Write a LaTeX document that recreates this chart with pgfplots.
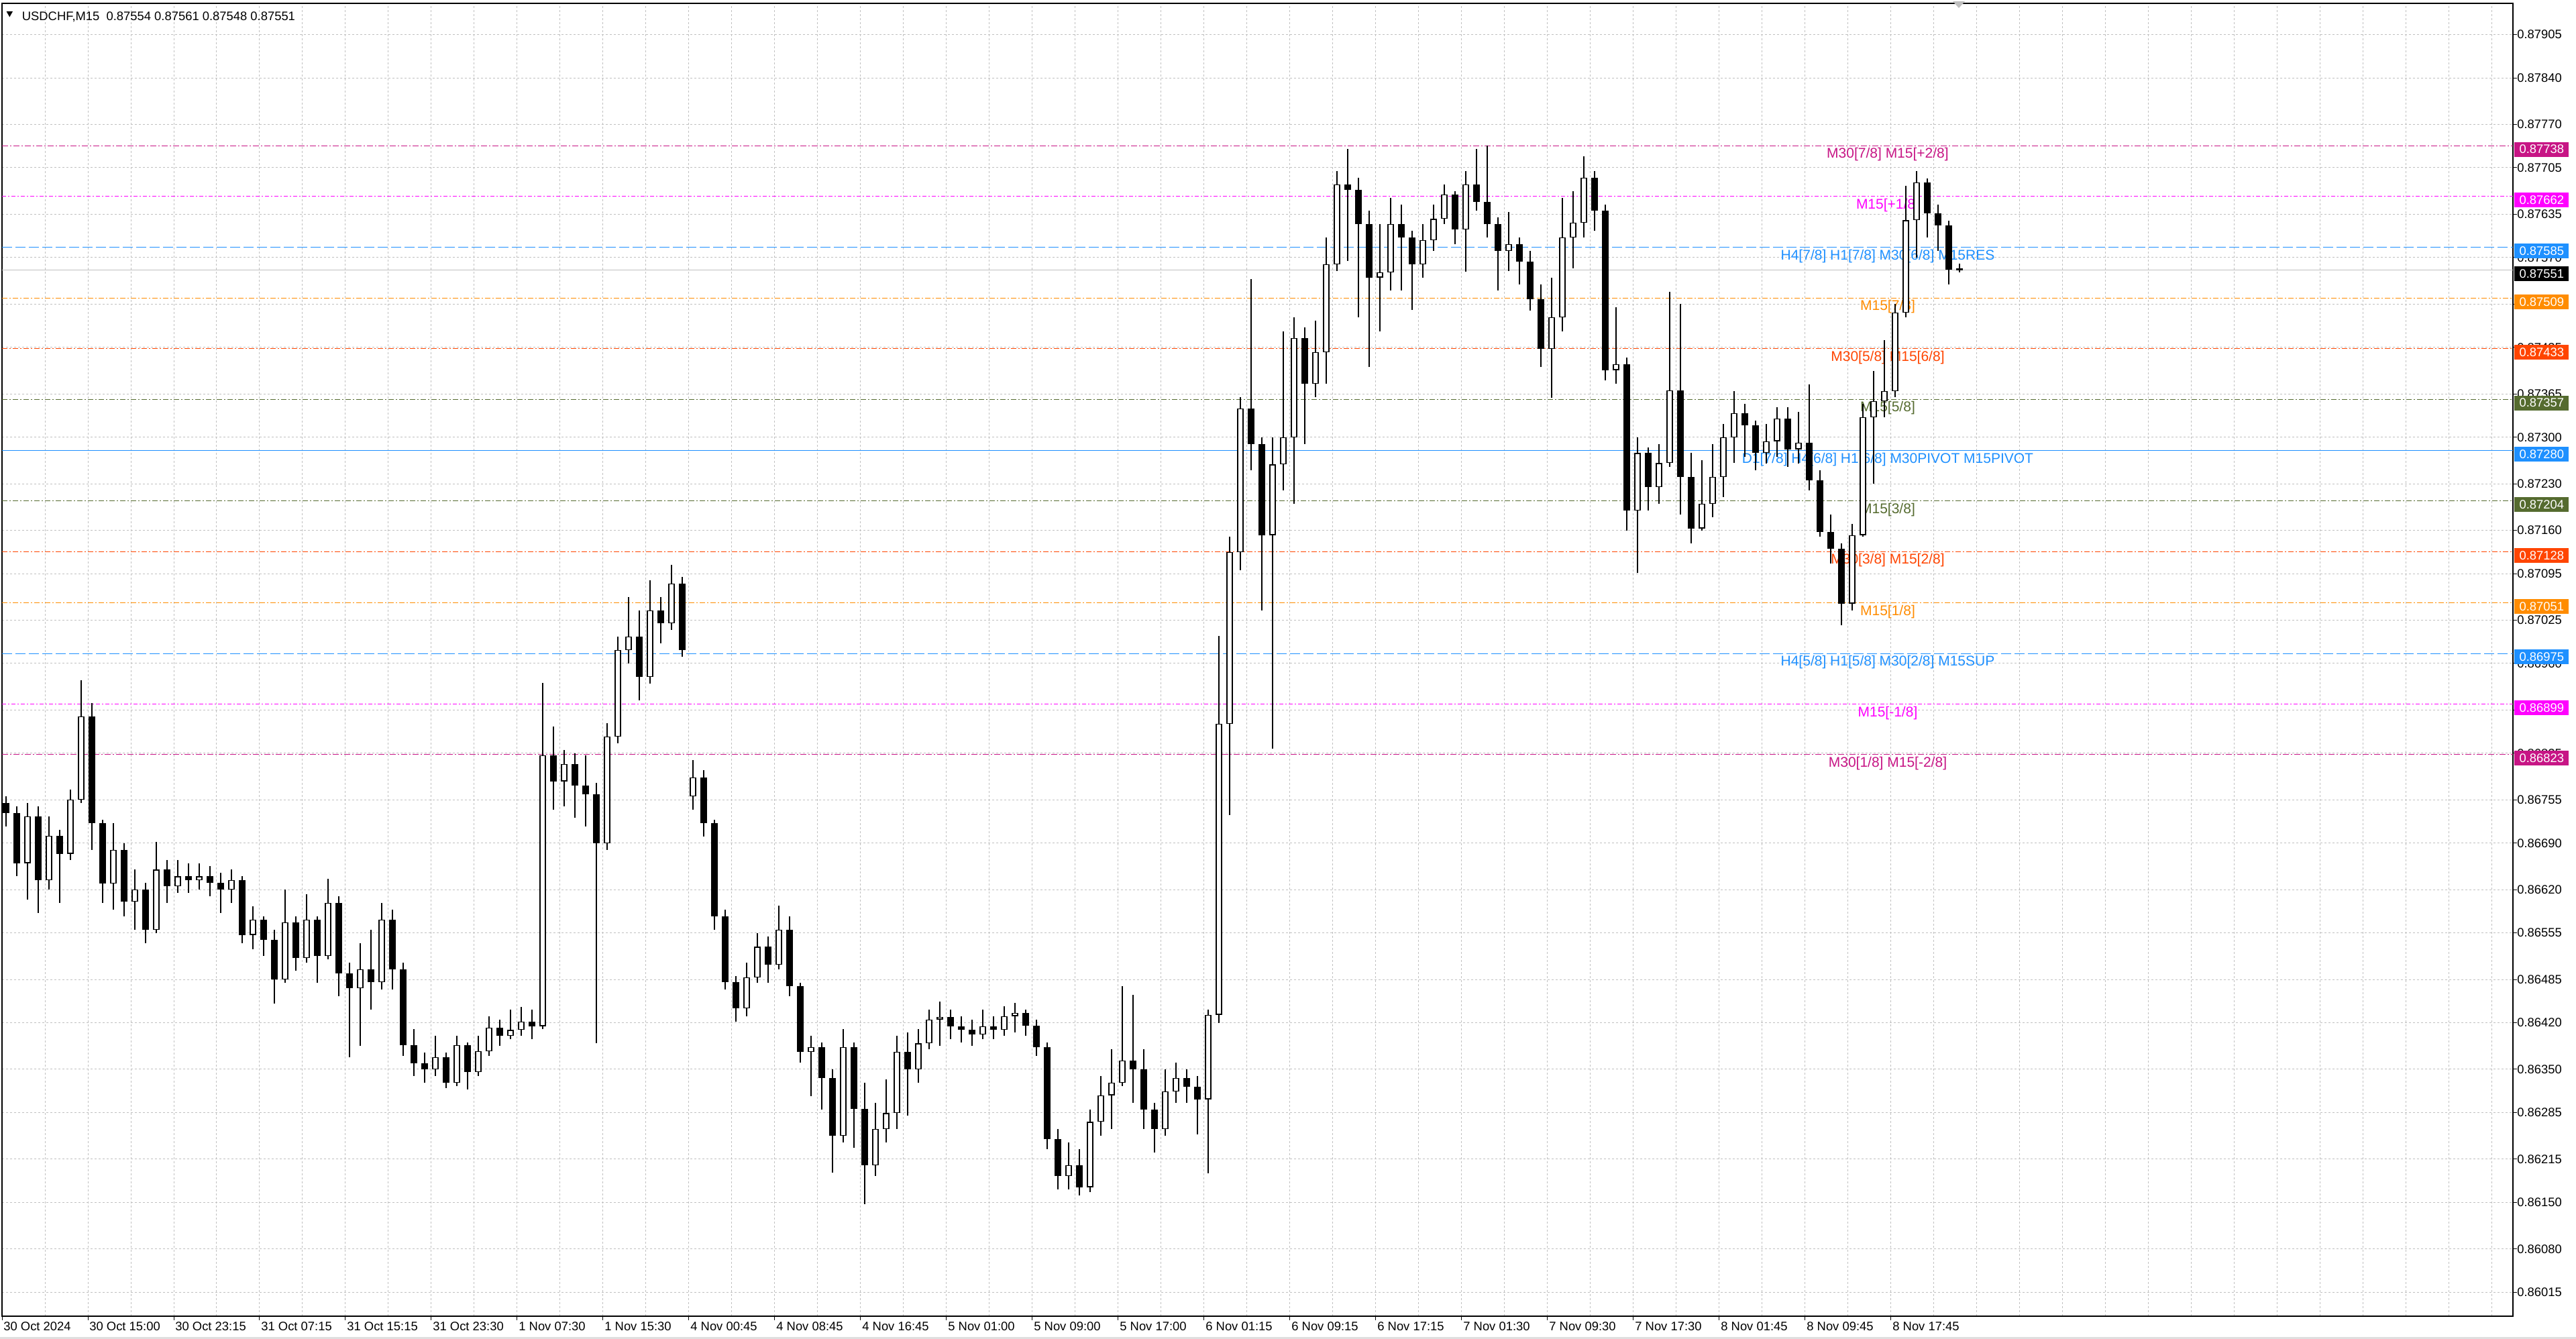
\documentclass[border=0pt]{standalone}
\usepackage{fontspec}
\setmainfont{Liberation Sans}
\usepackage{pgfplots}
\pgfplotsset{compat=1.18}
\usepackage{pgfplotstable}

\definecolor{mvr}{HTML}{C71585}
\definecolor{mag}{HTML}{FF00FF}
\definecolor{dblue}{HTML}{1E90FF}
\definecolor{dorange}{HTML}{FF8C00}
\definecolor{ored}{HTML}{FF4500}
\definecolor{olv}{HTML}{556B2F}
\definecolor{gridc}{HTML}{C0C0C0}

\newcommand\tickfont{\fontsize{9.2}{11}\selectfont}
\newcommand\lvlfont{\fontsize{10.5}{12}\selectfont}

\pgfplotstableread{
x o h l c
1.5 0.86750 0.86760 0.86715 0.86735
5.5 0.86735 0.86745 0.86640 0.86660
9.5 0.86660 0.86750 0.86605 0.86730
13.5 0.86730 0.86745 0.86585 0.86634
17.5 0.86634 0.86730 0.86620 0.86701
21.5 0.86701 0.86710 0.86600 0.86674
25.5 0.86674 0.86770 0.86665 0.86755
29.5 0.86755 0.86935 0.86750 0.86880
33.5 0.86880 0.86900 0.86680 0.86720
37.5 0.86720 0.86725 0.86600 0.86629
41.5 0.86629 0.86720 0.86590 0.86680
45.5 0.86680 0.86690 0.86580 0.86602
49.5 0.86602 0.86650 0.86560 0.86620
53.5 0.86620 0.86630 0.86540 0.86560
57.5 0.86560 0.86692 0.86555 0.86650
61.5 0.86650 0.86665 0.86600 0.86625
65.5 0.86625 0.86665 0.86615 0.86640
69.5 0.86640 0.86660 0.86615 0.86634
73.5 0.86634 0.86660 0.86620 0.86640
77.5 0.86640 0.86655 0.86610 0.86630
81.5 0.86630 0.86645 0.86585 0.86620
85.5 0.86620 0.86650 0.86600 0.86634
89.5 0.86634 0.86640 0.86540 0.86552
93.5 0.86552 0.86595 0.86530 0.86575
97.5 0.86575 0.86580 0.86520 0.86545
101.5 0.86545 0.86560 0.86449 0.86485
105.5 0.86485 0.86620 0.86480 0.86571
109.5 0.86571 0.86580 0.86498 0.86517
113.5 0.86517 0.86613 0.86510 0.86575
117.5 0.86575 0.86580 0.86480 0.86520
121.5 0.86520 0.86636 0.86515 0.86600
125.5 0.86600 0.86610 0.86460 0.86494
129.5 0.86494 0.86510 0.86368 0.86472
133.5 0.86472 0.86540 0.86385 0.86500
137.5 0.86500 0.86560 0.86440 0.86481
141.5 0.86481 0.86600 0.86470 0.86575
145.5 0.86575 0.86590 0.86470 0.86500
149.5 0.86500 0.86510 0.86370 0.86386
153.5 0.86386 0.86410 0.86340 0.86359
157.5 0.86359 0.86375 0.86330 0.86350
161.5 0.86350 0.86400 0.86340 0.86368
165.5 0.86368 0.86375 0.86322 0.86330
169.5 0.86330 0.86400 0.86325 0.86386
173.5 0.86386 0.86390 0.86320 0.86346
177.5 0.86346 0.86400 0.86340 0.86377
181.5 0.86377 0.86430 0.86370 0.86413
185.5 0.86413 0.86425 0.86385 0.86400
189.5 0.86400 0.86440 0.86395 0.86409
193.5 0.86409 0.86444 0.86400 0.86422
197.5 0.86422 0.86440 0.86395 0.86415
201.5 0.86415 0.86931 0.86410 0.86822
205.5 0.86822 0.86865 0.86740 0.86783
209.5 0.86783 0.86830 0.86745 0.86809
213.5 0.86809 0.86825 0.86728 0.86776
217.5 0.86776 0.86822 0.86715 0.86763
221.5 0.86763 0.86780 0.86389 0.86690
225.5 0.86690 0.86870 0.86680 0.86850
229.5 0.86850 0.87000 0.86840 0.86980
233.5 0.86980 0.87060 0.86960 0.87000
237.5 0.87000 0.87040 0.86904 0.86940
241.5 0.86940 0.87085 0.86930 0.87040
245.5 0.87040 0.87060 0.86990 0.87020
249.5 0.87020 0.87108 0.87010 0.87080
253.5 0.87080 0.87090 0.86970 0.86980
257.5 0.86760 0.86815 0.86740 0.86789
261.5 0.86789 0.86800 0.86700 0.86720
265.5 0.86720 0.86725 0.86560 0.86580
269.5 0.86580 0.86590 0.86470 0.86481
273.5 0.86481 0.86490 0.86422 0.86442
277.5 0.86442 0.86510 0.86430 0.86488
281.5 0.86488 0.86555 0.86480 0.86534
285.5 0.86534 0.86550 0.86480 0.86507
289.5 0.86507 0.86596 0.86500 0.86560
293.5 0.86560 0.86580 0.86460 0.86475
297.5 0.86475 0.86480 0.86360 0.86376
301.5 0.86376 0.86400 0.86310 0.86383
305.5 0.86383 0.86390 0.86290 0.86337
309.5 0.86337 0.86350 0.86195 0.86250
313.5 0.86250 0.86410 0.86240 0.86383
317.5 0.86383 0.86390 0.86232 0.86291
321.5 0.86291 0.86330 0.86147 0.86206
325.5 0.86206 0.86300 0.86190 0.86260
329.5 0.86260 0.86335 0.86240 0.86284
333.5 0.86284 0.86400 0.86260 0.86376
337.5 0.86376 0.86405 0.86280 0.86350
341.5 0.86350 0.86410 0.86330 0.86389
345.5 0.86389 0.86440 0.86380 0.86425
349.5 0.86425 0.86452 0.86385 0.86429
353.5 0.86429 0.86440 0.86395 0.86415
357.5 0.86415 0.86430 0.86390 0.86409
361.5 0.86409 0.86425 0.86385 0.86402
365.5 0.86402 0.86440 0.86395 0.86415
369.5 0.86415 0.86430 0.86395 0.86409
373.5 0.86409 0.86445 0.86400 0.86430
377.5 0.86430 0.86450 0.86405 0.86435
381.5 0.86435 0.86440 0.86400 0.86416
385.5 0.86416 0.86425 0.86370 0.86383
389.5 0.86383 0.86390 0.86230 0.86245
393.5 0.86245 0.86260 0.86170 0.86190
397.5 0.86190 0.86240 0.86170 0.86206
401.5 0.86206 0.86230 0.86160 0.86173
405.5 0.86173 0.86290 0.86165 0.86271
409.5 0.86271 0.86340 0.86250 0.86311
413.5 0.86311 0.86380 0.86260 0.86330
417.5 0.86330 0.86475 0.86325 0.86363
421.5 0.86363 0.86462 0.86300 0.86350
425.5 0.86350 0.86380 0.86260 0.86290
429.5 0.86290 0.86300 0.86225 0.86260
433.5 0.86260 0.86350 0.86250 0.86317
437.5 0.86317 0.86360 0.86300 0.86337
441.5 0.86337 0.86350 0.86300 0.86324
445.5 0.86324 0.86340 0.86252 0.86305
449.5 0.86305 0.86440 0.86194 0.86432
453.5 0.86432 0.87001 0.86420 0.86869
457.5 0.86869 0.87150 0.86732 0.87127
461.5 0.87127 0.87360 0.87100 0.87343
465.5 0.87343 0.87538 0.87250 0.87290
469.5 0.87290 0.87300 0.87040 0.87153
473.5 0.87153 0.87300 0.86832 0.87259
477.5 0.87259 0.87459 0.87220 0.87300
481.5 0.87300 0.87480 0.87200 0.87449
485.5 0.87449 0.87465 0.87290 0.87380
489.5 0.87380 0.87475 0.87360 0.87428
493.5 0.87428 0.87600 0.87380 0.87560
497.5 0.87560 0.87700 0.87550 0.87680
501.5 0.87680 0.87733 0.87565 0.87672
505.5 0.87672 0.87690 0.87480 0.87620
509.5 0.87620 0.87640 0.87406 0.87540
513.5 0.87540 0.87620 0.87459 0.87548
517.5 0.87548 0.87660 0.87520 0.87620
521.5 0.87620 0.87650 0.87520 0.87600
525.5 0.87600 0.87610 0.87491 0.87560
529.5 0.87560 0.87620 0.87540 0.87596
533.5 0.87596 0.87650 0.87580 0.87628
537.5 0.87628 0.87680 0.87620 0.87665
541.5 0.87665 0.87670 0.87590 0.87612
545.5 0.87612 0.87700 0.87549 0.87680
549.5 0.87680 0.87733 0.87640 0.87654
553.5 0.87654 0.87738 0.87600 0.87620
557.5 0.87620 0.87630 0.87520 0.87580
561.5 0.87580 0.87638 0.87550 0.87590
565.5 0.87590 0.87600 0.87530 0.87564
569.5 0.87564 0.87580 0.87490 0.87507
573.5 0.87507 0.87530 0.87406 0.87433
577.5 0.87433 0.87540 0.87359 0.87480
581.5 0.87480 0.87660 0.87459 0.87600
585.5 0.87600 0.87670 0.87554 0.87622
589.5 0.87622 0.87722 0.87600 0.87690
593.5 0.87690 0.87700 0.87610 0.87640
597.5 0.87640 0.87650 0.87385 0.87401
601.5 0.87401 0.87495 0.87380 0.87410
605.5 0.87410 0.87420 0.87160 0.87190
609.5 0.87190 0.87300 0.87096 0.87276
613.5 0.87276 0.87285 0.87190 0.87225
617.5 0.87225 0.87290 0.87200 0.87261
621.5 0.87261 0.87518 0.87255 0.87370
625.5 0.87370 0.87500 0.87184 0.87240
629.5 0.87240 0.87276 0.87140 0.87163
633.5 0.87163 0.87265 0.87160 0.87200
637.5 0.87200 0.87290 0.87180 0.87240
641.5 0.87240 0.87320 0.87210 0.87300
645.5 0.87300 0.87369 0.87261 0.87336
649.5 0.87336 0.87350 0.87270 0.87318
653.5 0.87318 0.87325 0.87250 0.87276
657.5 0.87276 0.87320 0.87260 0.87294
661.5 0.87294 0.87345 0.87270 0.87328
665.5 0.87328 0.87345 0.87255 0.87282
669.5 0.87282 0.87338 0.87260 0.87292
673.5 0.87292 0.87379 0.87220 0.87235
677.5 0.87235 0.87250 0.87150 0.87158
681.5 0.87158 0.87184 0.87110 0.87132
685.5 0.87132 0.87140 0.87017 0.87050
689.5 0.87050 0.87170 0.87040 0.87153
693.5 0.87153 0.87350 0.87150 0.87330
697.5 0.87330 0.87400 0.87230 0.87354
701.5 0.87354 0.87446 0.87330 0.87369
705.5 0.87369 0.87500 0.87360 0.87487
709.5 0.87487 0.87678 0.87480 0.87626
713.5 0.87626 0.87700 0.87570 0.87683
717.5 0.87683 0.87689 0.87600 0.87636
721.5 0.87636 0.87650 0.87580 0.87618
725.5 0.87618 0.87625 0.87530 0.87552
729.5 0.87554 0.87561 0.87548 0.87551
}\candles

\begin{document}
\begin{tikzpicture}
\path[use as bounding box] (0,0) rectangle (1920pt,998pt);
\fill[white] (0,0) rectangle (1920pt,998pt);
\begin{axis}[
  at={(1.5pt,17pt)}, anchor=south west,
  scale only axis, width=1871.5pt, height=978.5pt,
  xmin=0, xmax=935.75, ymin=0.85979, ymax=0.87952,
  axis line style={black, line width=0.6pt},
  scaled y ticks=false, scaled x ticks=false,
  xtick={0,32,64,96,128,160,192,224,256,288,320,352,384,416,448,480,512,544,576,608,640,672,704},
  xticklabels={30 Oct 2024,30 Oct 15:00,30 Oct 23:15,31 Oct 07:15,31 Oct 15:15,31 Oct 23:30,1 Nov 07:30,1 Nov 15:30,4 Nov 00:45,4 Nov 08:45,4 Nov 16:45,5 Nov 01:00,5 Nov 09:00,5 Nov 17:00,6 Nov 01:15,6 Nov 09:15,6 Nov 17:15,7 Nov 01:30,7 Nov 09:30,7 Nov 17:30,8 Nov 01:45,8 Nov 09:45,8 Nov 17:45},
  minor xtick={16,48,80,112,144,176,208,240,272,304,336,368,400,432,464,496,528,560,592,624,656,688,720,736,752,768,784,800,816,832,848,864,880,896,912,928},
  ytick={0.86015,0.86080,0.86150,0.86215,0.86285,0.86350,0.86420,0.86485,0.86555,0.86620,0.86690,0.86755,0.86825,0.86890,0.86960,0.87025,0.87095,0.87160,0.87230,0.87300,0.87365,0.87435,0.87500,0.87570,0.87635,0.87705,0.87770,0.87840,0.87905},
  yticklabels={0.86015,0.86080,0.86150,0.86215,0.86285,0.86350,0.86420,0.86485,0.86555,0.86620,0.86690,0.86755,0.86825,0.86890,0.86960,0.87025,0.87095,0.87160,0.87230,0.87300,0.87365,0.87435,0.87500,0.87570,0.87635,0.87705,0.87770,0.87840,0.87905},
  xtick pos=bottom, ytick pos=right, yticklabel pos=right,
  tick align=outside, major tick length=3pt, minor tick length=0pt,
  tick style={black, line width=0.5pt},
  grid=both,
  major grid style={gridc, dash pattern=on 1.5pt off 1.5pt, line width=0.5pt},
  minor grid style={gridc, dash pattern=on 1.5pt off 1.5pt, line width=0.5pt},
  xticklabel style={font=\tickfont, anchor=north west, inner sep=0pt, xshift=1pt, yshift=-1pt},
  yticklabel style={font=\tickfont, anchor=west, inner sep=0pt, xshift=0pt},
]
% level lines
\addplot[mvr, line width=0.5pt, dash pattern=on 4.5pt off 1.5pt on 1pt off 1.5pt, forget plot] coordinates {(0,0.87738) (935.75,0.87738)};
\addplot[mag, line width=0.5pt, dash pattern=on 3pt off 1.5pt on 1pt off 1.5pt, forget plot] coordinates {(0,0.87662) (935.75,0.87662)};
\addplot[dblue, line width=0.5pt, dash pattern=on 7.5pt off 2.5pt, forget plot] coordinates {(0,0.87585) (935.75,0.87585)};
\addplot[gridc, line width=0.5pt, forget plot] coordinates {(0,0.87551) (935.75,0.87551)};
\addplot[dorange, line width=0.5pt, dash pattern=on 4pt off 1.5pt on 1pt off 1.5pt, forget plot] coordinates {(0,0.87509) (935.75,0.87509)};
\addplot[ored, line width=0.5pt, dash pattern=on 4pt off 1.5pt on 1pt off 1.5pt, forget plot] coordinates {(0,0.87433) (935.75,0.87433)};
\addplot[olv, line width=0.5pt, dash pattern=on 4pt off 1.5pt on 1pt off 1.5pt, forget plot] coordinates {(0,0.87357) (935.75,0.87357)};
\addplot[dblue, line width=0.5pt, forget plot] coordinates {(0,0.87280) (935.75,0.87280)};
\addplot[olv, line width=0.5pt, dash pattern=on 4pt off 1.5pt on 1pt off 1.5pt, forget plot] coordinates {(0,0.87204) (935.75,0.87204)};
\addplot[ored, line width=0.5pt, dash pattern=on 4pt off 1.5pt on 1pt off 1.5pt, forget plot] coordinates {(0,0.87128) (935.75,0.87128)};
\addplot[dorange, line width=0.5pt, dash pattern=on 4pt off 1.5pt on 1pt off 1.5pt, forget plot] coordinates {(0,0.87051) (935.75,0.87051)};
\addplot[dblue, line width=0.5pt, dash pattern=on 7.5pt off 2.5pt, forget plot] coordinates {(0,0.86975) (935.75,0.86975)};
\addplot[mag, line width=0.5pt, dash pattern=on 3pt off 1.5pt on 1pt off 1.5pt, forget plot] coordinates {(0,0.86899) (935.75,0.86899)};
\addplot[mvr, line width=0.5pt, dash pattern=on 4.5pt off 1.5pt on 1pt off 1.5pt, forget plot] coordinates {(0,0.86823) (935.75,0.86823)};
% level labels
\node[text=mvr, font=\lvlfont, anchor=base, inner sep=0pt, yshift=-9.3pt] at (axis cs:702.75,0.87738) {M30[7/8] M15[+2/8]};
\node[text=mag, font=\lvlfont, anchor=base, inner sep=0pt, yshift=-9.3pt] at (axis cs:702.75,0.87662) {M15[+1/8]};
\node[text=dblue, font=\lvlfont, anchor=base, inner sep=0pt, yshift=-9.3pt] at (axis cs:702.75,0.87585) {H4[7/8] H1[7/8] M30[6/8] M15RES};
\node[text=dorange, font=\lvlfont, anchor=base, inner sep=0pt, yshift=-9.3pt] at (axis cs:702.75,0.87509) {M15[7/8]};
\node[text=ored, font=\lvlfont, anchor=base, inner sep=0pt, yshift=-9.3pt] at (axis cs:702.75,0.87433) {M30[5/8] M15[6/8]};
\node[text=olv, font=\lvlfont, anchor=base, inner sep=0pt, yshift=-9.3pt] at (axis cs:702.75,0.87357) {M15[5/8]};
\node[text=dblue, font=\lvlfont, anchor=base, inner sep=0pt, yshift=-9.3pt] at (axis cs:702.75,0.87280) {D1[7/8] H4[6/8] H1[6/8] M30PIVOT M15PIVOT};
\node[text=olv, font=\lvlfont, anchor=base, inner sep=0pt, yshift=-9.3pt] at (axis cs:702.75,0.87204) {M15[3/8]};
\node[text=ored, font=\lvlfont, anchor=base, inner sep=0pt, yshift=-9.3pt] at (axis cs:702.75,0.87128) {M30[3/8] M15[2/8]};
\node[text=dorange, font=\lvlfont, anchor=base, inner sep=0pt, yshift=-9.3pt] at (axis cs:702.75,0.87051) {M15[1/8]};
\node[text=dblue, font=\lvlfont, anchor=base, inner sep=0pt, yshift=-9.3pt] at (axis cs:702.75,0.86975) {H4[5/8] H1[5/8] M30[2/8] M15SUP};
\node[text=mag, font=\lvlfont, anchor=base, inner sep=0pt, yshift=-9.3pt] at (axis cs:702.75,0.86899) {M15[-1/8]};
\node[text=mvr, font=\lvlfont, anchor=base, inner sep=0pt, yshift=-9.3pt] at (axis cs:702.75,0.86823) {M30[1/8] M15[-2/8]};
% candles: wicks
\addplot[draw=none, mark=none, forget plot,
  error bars/.cd, y dir=both, y explicit, error mark=none,
  error bar style={black, line width=0.7pt, solid}]
  table[x=x, y=c, y error plus expr=\thisrow{h}-\thisrow{c}, y error minus expr=\thisrow{c}-\thisrow{l}] {\candles};
% bodies
\addplot[draw=none, mark=none, forget plot,
  error bars/.cd, y dir=plus, y explicit, error mark=none,
  error bar style={black, line width=4.6pt, solid}]
  table[x=x, y expr={min(\thisrow{o},\thisrow{c})}, y error plus expr={max(abs(\thisrow{c}-\thisrow{o}),0.00002)}] {\candles};
% hollow bull bodies
\addplot[draw=none, mark=none, forget plot,
  error bars/.cd, y dir=plus, y explicit, error mark=none,
  error bar style={white, line width=3.2pt, solid}]
  table[x=x, y expr={\thisrow{o}+0.000012}, y error plus expr={max(\thisrow{c}-\thisrow{o}-0.000024,0)}] {\candles};
% tag anchors
\coordinate (T1) at (axis cs:935.75,0.87738);
\coordinate (T2) at (axis cs:935.75,0.87662);
\coordinate (T3) at (axis cs:935.75,0.87585);
\coordinate (T4) at (axis cs:935.75,0.87551);
\coordinate (T5) at (axis cs:935.75,0.87509);
\coordinate (T6) at (axis cs:935.75,0.87433);
\coordinate (T7) at (axis cs:935.75,0.87357);
\coordinate (T8) at (axis cs:935.75,0.87280);
\coordinate (T9) at (axis cs:935.75,0.87204);
\coordinate (T10) at (axis cs:935.75,0.87128);
\coordinate (T11) at (axis cs:935.75,0.87051);
\coordinate (T12) at (axis cs:935.75,0.86975);
\coordinate (T13) at (axis cs:935.75,0.86899);
\coordinate (T14) at (axis cs:935.75,0.86823);
\end{axis}
\tikzset{tag/.style={anchor=west, minimum width=40.5pt, minimum height=11pt, inner sep=0pt, text=white, font=\tickfont, xshift=1pt, yshift=-2.7pt}}
\node[tag, fill=mvr] at (T1) {0.87738};
\node[tag, fill=mag] at (T2) {0.87662};
\node[tag, fill=dblue] at (T3) {0.87585};
\node[tag, fill=black] at (T4) {0.87551};
\node[tag, fill=dorange] at (T5) {0.87509};
\node[tag, fill=ored] at (T6) {0.87433};
\node[tag, fill=olv] at (T7) {0.87357};
\node[tag, fill=dblue] at (T8) {0.87280};
\node[tag, fill=olv] at (T9) {0.87204};
\node[tag, fill=ored] at (T10) {0.87128};
\node[tag, fill=dorange] at (T11) {0.87051};
\node[tag, fill=dblue] at (T12) {0.86975};
\node[tag, fill=mag] at (T13) {0.86899};
\node[tag, fill=mvr] at (T14) {0.86823};
% title
\fill[black] (4.8pt,989.5pt) -- (9.5pt,989.5pt) -- (7.15pt,985.3pt) -- cycle;
\node[anchor=base west, inner sep=0pt, font=\tickfont] at (16.25pt,982.7pt) {USDCHF,M15\ \ 0.87554 0.87561 0.87548 0.87551};
% shift marker
\fill[gray!50] (1455.5pt,997pt) -- (1464.5pt,997pt) -- (1460pt,992pt) -- cycle;
\draw[gray!25, line width=1.5pt] (0,0.75pt) -- (1920pt,0.75pt);
\end{tikzpicture}
\end{document}
